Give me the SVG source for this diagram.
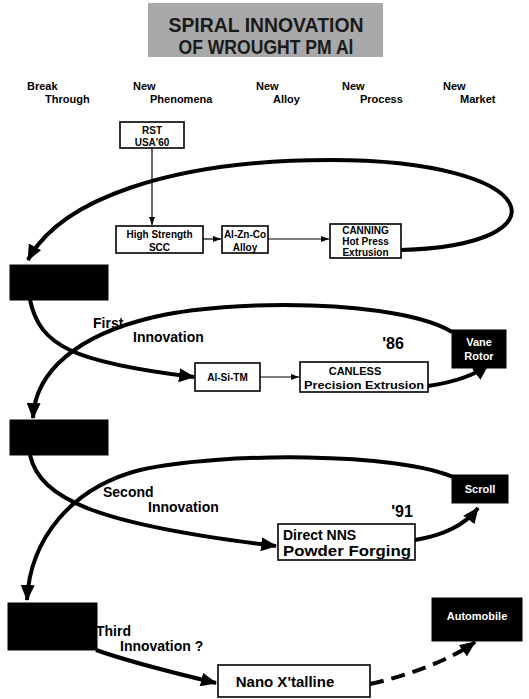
<svg xmlns="http://www.w3.org/2000/svg" width="529" height="699" viewBox="0 0 529 699">
<defs>
<style>
.hd{font-family:"Liberation Sans",Arial,sans-serif;font-weight:bold;font-size:11px;fill:#000}
.bx{fill:#fff;stroke:#000;stroke-width:1.6}
.blk{fill:#000;stroke:#000}
.bt{font-family:"Liberation Sans",Arial,sans-serif;font-weight:bold;font-size:10px;fill:#000;text-anchor:middle}
.wt{font-family:"Liberation Sans",Arial,sans-serif;font-weight:bold;font-size:11px;fill:#fff;text-anchor:middle}
.lb{font-family:"Liberation Sans",Arial,sans-serif;font-weight:bold;font-size:14px;fill:#000}
.thick{fill:none;stroke:#000;stroke-width:4;marker-end:url(#big)}
.thin{fill:none;stroke:#000;stroke-width:1.2;marker-end:url(#small)}
</style>
<marker id="big" viewBox="0 0 16 14" refX="15" refY="7" markerWidth="16" markerHeight="14" markerUnits="userSpaceOnUse" orient="auto"><path d="M0,0 L16,7 L0,14 z" fill="#000"/></marker>
<marker id="small" viewBox="0 0 8 6" refX="8" refY="3" markerWidth="8" markerHeight="6" markerUnits="userSpaceOnUse" orient="auto"><path d="M0,0 L8,3 L0,6 z" fill="#000"/></marker>
</defs>
<rect width="529" height="699" fill="#fff"/>
<g id="title">
<rect x="148" y="3" width="235" height="54" fill="#a8a8a8"/>
<text x="266" y="32" text-anchor="middle" font-family="Liberation Sans,Arial,sans-serif" font-weight="bold" font-size="21" fill="#1a1a1a" textLength="195" lengthAdjust="spacingAndGlyphs">SPIRAL INNOVATION</text>
<text x="266" y="54" text-anchor="middle" font-family="Liberation Sans,Arial,sans-serif" font-weight="bold" font-size="21" fill="#1a1a1a" textLength="175" lengthAdjust="spacingAndGlyphs">OF WROUGHT PM Al</text>
</g>
<g id="headers">
<text class="hd" x="27" y="90">Break</text><text class="hd" x="45" y="103">Through</text>
<text class="hd" x="133" y="90">New</text><text class="hd" x="150" y="103">Phenomena</text>
<text class="hd" x="256" y="90">New</text><text class="hd" x="273" y="103">Alloy</text>
<text class="hd" x="342" y="90">New</text><text class="hd" x="360" y="103">Process</text>
<text class="hd" x="443" y="90">New</text><text class="hd" x="460" y="103">Market</text>
</g>
<g id="connectors">
<path class="thin" d="M152,148 L152,225"/>
<path class="thin" d="M203,239 L221,239"/>
<path class="thin" d="M268,239 L329,239"/>
<path class="thin" d="M260,377 L299,377"/>
<path class="thick" d="M401,250 C570,245 545,160 330,160 C170,160 60,200 28,260"/>
<path class="thick" d="M30,300 C40,345 70,362 194,377"/>
<path class="thick" d="M452,332 C400,300 230,298 150,318 C80,335 35,370 33,418"/>
<path class="thick" d="M428,386 C455,382 475,375 488,365"/>
<path class="thick" d="M30,455 C40,500 100,525 276,546"/>
<path class="thick" d="M415,540 C445,535 465,525 478,508"/>
<path class="thick" d="M455,478 C400,452 220,452 140,470 C70,488 30,540 27,600"/>
<path class="thick" d="M96,650 C130,662 170,672 216,683"/>
<path class="thick" stroke-dasharray="14 8" d="M370,684 C410,675 450,660 475,642"/>
</g>
<g id="rst"><rect class="bx" x="120" y="122" width="64" height="26"/><text class="bt" x="152" y="134">RST</text><text class="bt" x="152" y="146">USA'60</text></g>
<g id="highstrength"><rect class="bx" x="116" y="226" width="87" height="27"/><text class="bt" x="159.5" y="238">High Strength</text><text class="bt" x="159.5" y="251">SCC</text></g>
<g id="alznco"><rect class="bx" x="222" y="226" width="46" height="27"/><text class="bt" x="245" y="238">Al-Zn-Co</text><text class="bt" x="245" y="251">Alloy</text></g>
<g id="canning"><rect class="bx" x="330" y="224" width="71" height="34"/><text class="bt" x="365.5" y="234">CANNING</text><text class="bt" x="365.5" y="245">Hot Press</text><text class="bt" x="365.5" y="256">Extrusion</text></g>
<g id="left1"><rect class="blk" x="10" y="265" width="98" height="35"/></g>
<g id="alsitm"><rect class="bx" x="195" y="363" width="65" height="28"/><text class="bt" x="227.5" y="381">Al-Si-TM</text></g>
<g id="canless"><text class="lb" x="393" y="349" style="text-anchor:middle;font-size:16px">'86</text><rect class="bx" x="300" y="362" width="128" height="30"/><text class="bt" x="355" y="375" style="font-size:11px">CANLESS</text><text class="bt" x="364" y="389" style="font-size:11px" textLength="120" lengthAdjust="spacingAndGlyphs">Precision Extrusion</text></g>
<g id="rotor"><rect class="blk" x="452" y="330" width="54" height="38"/><text class="wt" x="479" y="346">Vane</text><text class="wt" x="479" y="360">Rotor</text></g>
<g id="first"><text class="lb" x="93" y="328">First</text><text class="lb" x="133" y="342">Innovation</text></g>
<g id="left2"><rect class="blk" x="10" y="420" width="98" height="35"/></g>
<g id="second"><text class="lb" x="103" y="497">Second</text><text class="lb" x="148" y="512">Innovation</text></g>
<g id="directnns"><text class="lb" x="402" y="517" style="text-anchor:middle;font-size:16px">'91</text><rect class="bx" x="278" y="524" width="137" height="36"/><text class="bt" x="283" y="540" style="font-size:14px;text-anchor:start">Direct NNS</text><text class="bt" x="283" y="556" style="font-size:14px;text-anchor:start" textLength="128" lengthAdjust="spacingAndGlyphs">Powder Forging</text></g>
<g id="scroll"><rect class="blk" x="452" y="475" width="56" height="28"/><text class="wt" x="480" y="493">Scroll</text></g>
<g id="left3"><rect class="blk" x="8" y="603" width="89" height="47"/></g>
<g id="third"><text class="lb" x="96" y="636">Third</text><text class="lb" x="120" y="651">Innovation ?</text></g>
<g id="nano"><rect class="bx" x="218" y="665" width="152" height="32"/><text class="bt" x="285" y="687" style="font-size:15px">Nano X'talline</text></g>
<g id="automobile"><rect class="blk" x="432" y="598" width="90" height="43"/><text class="wt" x="477" y="620">Automobile</text></g>
</svg>
